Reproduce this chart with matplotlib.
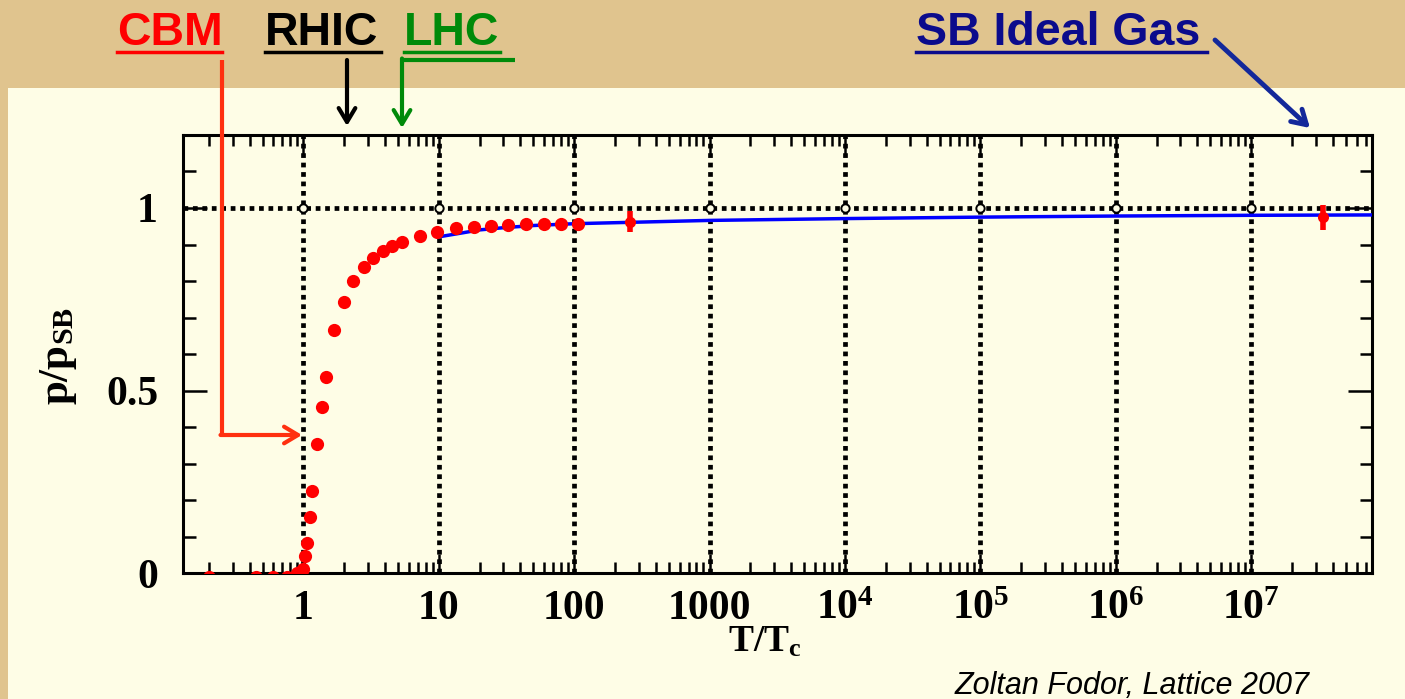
import matplotlib
matplotlib.use("Agg")
from matplotlib import pyplot as plt
from matplotlib.lines import Line2D
from matplotlib.patches import Rectangle, FancyArrowPatch
from matplotlib.ticker import LogLocator, NullFormatter, MultipleLocator

# lattice data: p/p_SB vs T/Tc
T_lat = [0.2, 0.45, 0.6, 0.75, 0.9, 0.95, 1.0, 1.03, 1.065, 1.12, 1.16, 1.26, 1.37,
         1.47, 1.68, 1.98, 2.32, 2.78, 3.26, 3.86, 4.5, 5.33, 7.3, 9.7, 13.4,
         18.1, 24.3, 32.7, 44.3, 59.4, 79.8, 106]
p_lat = [-0.01, -0.01, -0.01, -0.01, 0.0, 0.004, 0.012, 0.047, 0.082, 0.153, 0.225,
         0.353, 0.455, 0.537, 0.666, 0.743, 0.80, 0.837, 0.862, 0.882, 0.896,
         0.906, 0.923, 0.935, 0.944, 0.947, 0.951, 0.953, 0.955, 0.955, 0.955, 0.955]

# points with error bars
T_err = [260, 3.4e7]
p_err = [0.963, 0.974]
dp_err = [0.03, 0.035]

# perturbative curve
T_pt = [10, 15, 20, 30, 50, 100, 1000, 1e4, 1e5, 1e6, 1e7, 8e7]
p_pt = [0.921, 0.932, 0.94, 0.946, 0.952, 0.957, 0.966, 0.971, 0.975, 0.978, 0.980, 0.981]

xticks = [1, 10, 100, 1000, 1e4, 1e5, 1e6, 1e7]
xlabels = ["1", "10", "100", "1000", r"$10^4$", r"$10^5$", r"$10^6$", r"$10^7$"]
yticks = [0, 0.5, 1]
ylabels = ["0", "0.5", "1"]

plt.rcParams["mathtext.fontset"] = "custom"
plt.rcParams["mathtext.rm"] = "Liberation Serif:bold"
plt.rcParams["mathtext.it"] = "Liberation Serif:bold"
plt.rcParams["mathtext.bf"] = "Liberation Serif:bold"

W, H = 1405, 699
tan = "#e0c48e"
panel = "#fefde6"

fig = plt.figure(figsize=(W / 100, H / 100), dpi=100, facecolor=tan)


def px(x, y):
    return (x / W, 1 - y / H)


fig.add_artist(Rectangle(px(8, H), 1, 1 - 88 / H, transform=fig.transFigure,
                         facecolor=panel, edgecolor="none", zorder=0))

ax = fig.add_axes([183 / W, 1 - 573 / H, (1372 - 183) / W, (573 - 135) / H])
ax.set_facecolor(panel)
ax.set_xscale("log")
ax.set_xlim(0.129, 7.8e7)
ax.set_ylim(0, 1.2)

# dotted grid
for xv in xticks:
    ax.axvline(xv, color="black", lw=3.4, ls=(0, (1, 1)), zorder=1)
ax.axhline(1, color="black", lw=3.4, ls=(0, (1, 1)), zorder=1)
ax.plot(xticks, [1] * len(xticks), "o", ms=6, mfc=panel, mec="black", mew=1.4, zorder=2)

ax.plot(T_pt, p_pt, color="#0000ff", lw=2.5, zorder=3)
ax.plot(T_lat, p_lat, "o", color="#ff0000", ms=9.5, mec="none", zorder=4)
ax.errorbar(T_err, p_err, yerr=dp_err, fmt="o", color="#ff0000", ms=8, mec="none",
            elinewidth=4, capsize=0, zorder=4)

ax.set_xticks(xticks)
ax.set_xticklabels(xlabels)
ax.xaxis.set_minor_locator(LogLocator(base=10, subs=range(2, 10), numticks=30))
ax.xaxis.set_minor_formatter(NullFormatter())
ax.set_yticks(yticks)
ax.set_yticklabels(ylabels)
ax.yaxis.set_minor_locator(MultipleLocator(0.1))

for s in ax.spines.values():
    s.set_linewidth(2.2)
ax.tick_params(which="both", direction="in", top=True, right=True, width=1.8)
ax.tick_params(axis="x", which="major", length=14, pad=12)
ax.tick_params(axis="x", which="minor", length=8)
ax.tick_params(axis="y", which="major", length=17, pad=18)
ax.tick_params(axis="y", which="minor", length=9)
for lab in ax.get_xticklabels() + ax.get_yticklabels():
    lab.set_fontfamily("Liberation Serif")
    lab.set_fontweight("bold")
    lab.set_fontsize(30)

fig.text(58 / W, 1 - 356 / H, r"$\mathrm{p/p_{SB}}$", rotation=90, ha="center",
         va="center", fontsize=31)
fig.text(765 / W, 1 - 642 / H, r"$\mathrm{T/T_c}$", ha="center", va="center", fontsize=27)

fig.text(1310 / W, 1 - 686 / H, "Zoltan Fodor, Lattice 2007", ha="right", va="center",
         fontsize=22, style="italic", family="Liberation Sans", color="black")

# experiment labels on top
labels = [("CBM", 117, 222, "#ff0000"), ("RHIC", 265, 381, "black"),
          ("LHC", 404, 500, "#008a0a"), ("SB Ideal Gas", 916, 1207, "#0b0b8c")]
for txt, x0, x1, col in labels:
    fig.text(x0 / W, 1 - 45 / H, txt, ha="left", va="baseline", fontsize=33.5,
             fontweight="bold", family="Liberation Sans", color=col)
    fig.add_artist(Line2D([x0 / W, x1 / W], [1 - 52 / H] * 2, color=col, lw=2.5,
                          transform=fig.transFigure))


def seg(pts, col, lw=3):
    xs = [p[0] / W for p in pts]
    ys = [1 - p[1] / H for p in pts]
    fig.add_artist(Line2D(xs, ys, color=col, lw=lw, transform=fig.transFigure,
                          solid_capstyle="butt", zorder=5))


def arrow(p0, p1, col, lw=3):
    fig.add_artist(FancyArrowPatch(px(*p0), px(*p1), transform=fig.transFigure,
                                   arrowstyle="->,head_length=10,head_width=6",
                                   mutation_scale=1.0, color=col, lw=lw,
                                   shrinkA=0, shrinkB=0, zorder=5))


red_arrow = "#ff3010"
seg([(222, 60), (222, 435)], red_arrow)
arrow((220.5, 435), (302, 435), red_arrow)
arrow((347, 60), (347, 126), "black")
seg([(515, 60), (402, 60)], "#008a0a")
arrow((402, 58.5), (402, 128), "#008a0a")
arrow((1215, 40), (1310, 128), "#13289a", lw=3.5)

fig.savefig("out.png", dpi=100, facecolor=tan)
